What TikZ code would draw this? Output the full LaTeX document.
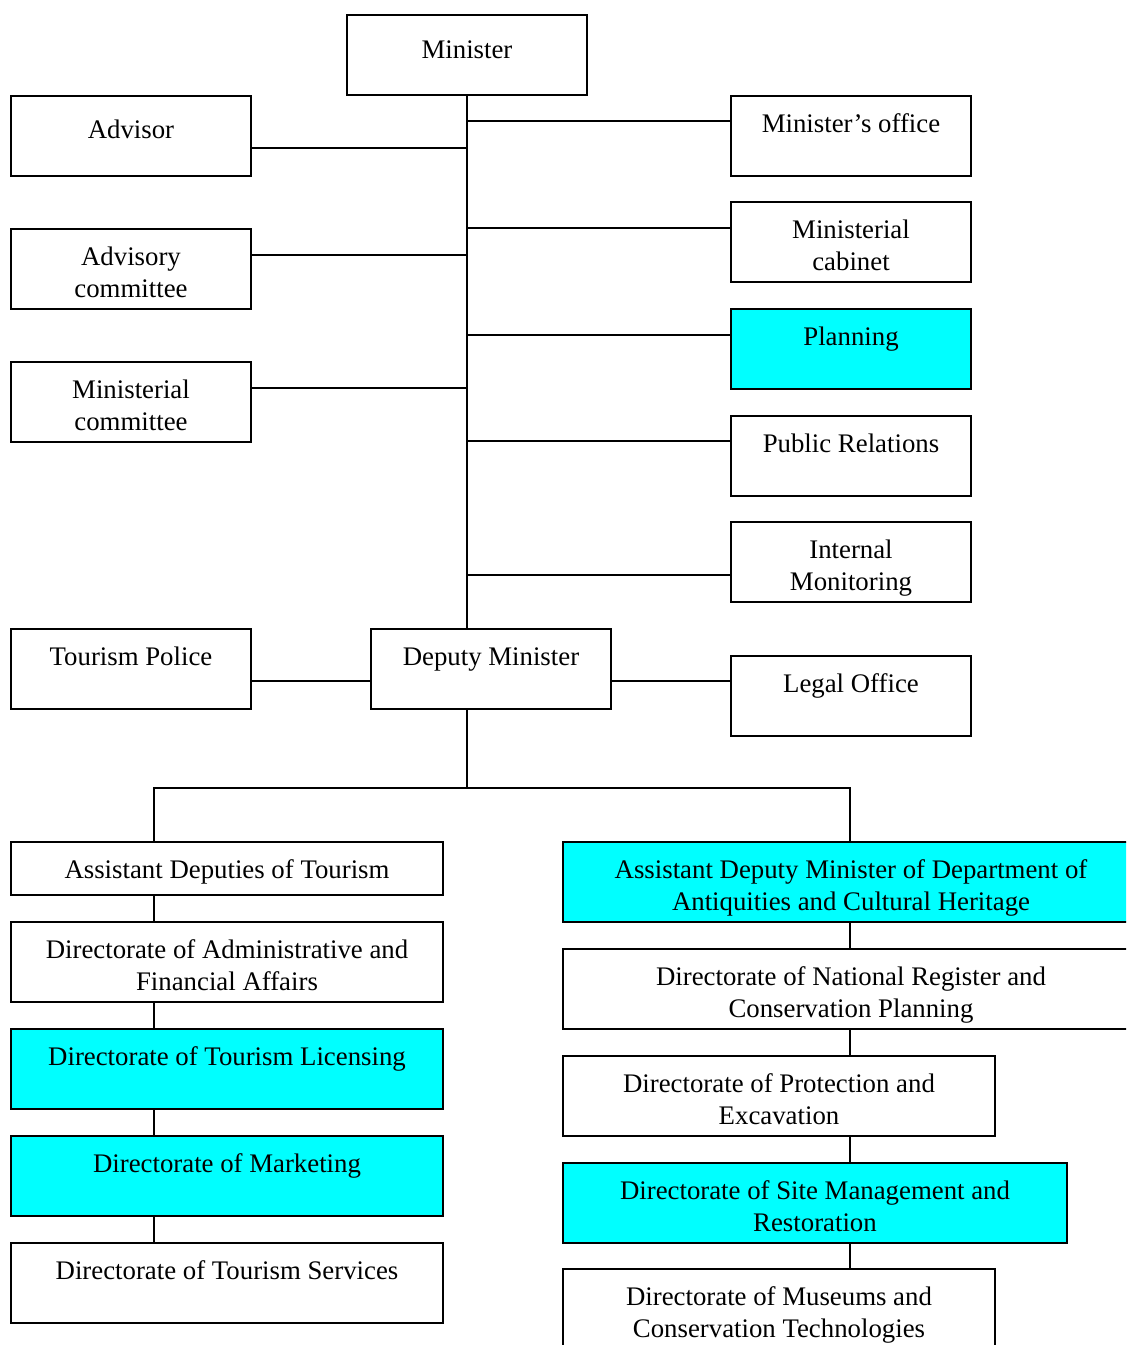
\documentclass[tikz,border=0pt]{standalone}
\usepackage{fontspec}
\setmainfont{Liberation Serif}
\usepackage{xcolor}
\definecolor{boxcyan}{RGB}{0,255,255}

\begin{document}
\begin{tikzpicture}[x=0.5pt, y=-0.5pt,
	orgbox/.style={draw, line width=1pt, fill=white, anchor=north west, inner sep=0pt, align=flush center,
		text width=#1, minimum width=#1, minimum height=40pt, text height=18pt, text depth=22pt,
		font=\fontsize{13.4pt}{16pt}\selectfont},
	orgbox/.default=120pt,
	hl/.style={fill=boxcyan},
	link/.style={line width=1pt}
]
\useasboundingbox (0,0) rectangle (1126,1345);
\clip (0,0) rectangle (1126,1345);

% minister level
\node[orgbox, text height=21.5pt, text depth=18.5pt] (minister) at (346,14) {Minister};
\node[orgbox, text height=21pt, text depth=19pt] (advisor) at (10,95) {Advisor};
\node[orgbox] (office) at (730,95) {Minister's office};
\node[orgbox] (advcomm) at (10,228) {Advisory\\committee};
\node[orgbox] (cabinet) at (730,201) {Ministerial\\cabinet};
\node[orgbox, hl] (planning) at (730,308) {Planning};
\node[orgbox] (mincomm) at (10,361) {Ministerial\\committee};
\node[orgbox] (pr) at (730,415) {Public Relations};
\node[orgbox] (monitor) at (730,521) {Internal\\Monitoring};
\node[orgbox] (police) at (10,628) {Tourism Police};
\node[orgbox] (deputy) at (370,628) {Deputy Minister};
\node[orgbox] (legal) at (730,655) {Legal Office};

% tourism branch
\node[orgbox=216pt, minimum height=26.5pt, text depth=8.5pt] (asstour) at (10,841) {Assistant Deputies of Tourism};
\node[orgbox=216pt] (diradmin) at (10,921) {Directorate of Administrative and\\Financial Affairs};
\node[orgbox=216pt, hl] (dirlic) at (10,1028) {Directorate of Tourism Licensing};
\node[orgbox=216pt, hl] (dirmkt) at (10,1135) {Directorate of Marketing};
\node[orgbox=216pt] (dirsvc) at (10,1242) {Directorate of Tourism Services};

% heritage branch
\node[orgbox=288pt, hl] (asdm) at (562,841) {Assistant Deputy Minister of Department of\\Antiquities and Cultural Heritage};
\node[orgbox=288pt] (natreg) at (562,948) {Directorate of National Register and\\Conservation Planning};
\node[orgbox=216pt] (protect) at (562,1055) {Directorate of Protection and\\Excavation};
\node[orgbox=252pt, hl] (site) at (562,1162) {Directorate of Site Management and\\Restoration};
\node[orgbox=216pt] (museum) at (562,1268) {Directorate of Museums and\\Conservation Technologies};

% trunk and side links
\draw[link] (minister.south) -- (minister.south |- deputy.north);
\draw[link] (minister.south) |- ([yshift=-13pt]office.north west);
\draw[link] (minister.south) |- ([yshift=-26.5pt]advisor.north east);
\draw[link] (minister.south) |- ([yshift=-13.5pt]cabinet.north west);
\draw[link] (minister.south) |- ([yshift=-13.5pt]advcomm.north east);
\draw[link] (minister.south) |- ([yshift=-13.5pt]planning.north west);
\draw[link] (minister.south) |- ([yshift=-13.5pt]mincomm.north east);
\draw[link] (minister.south) |- ([yshift=-13pt]pr.north west);
\draw[link] (minister.south) |- ([yshift=-27pt]monitor.north west);
\draw[link] ([yshift=-26.5pt]police.north east) -- ([yshift=-26.5pt]deputy.north west);
\draw[link] ([yshift=-26.5pt]deputy.north east) -- ([yshift=-13pt]legal.north west);

% lower split
\coordinate (lspine) at (154,788);
\coordinate (rspine) at (850,788);
\coordinate (split) at (minister.south |- lspine);
\draw[link] (minister.south |- deputy.south) -- (split);
\draw[link] (lspine |- asstour.north) -- (lspine) -- (rspine) -- (rspine |- asdm.north);
\foreach \a/\b in {asstour/diradmin, diradmin/dirlic, dirlic/dirmkt, dirmkt/dirsvc}
	\draw[link] (lspine |- \a.south) -- (lspine |- \b.north);
\foreach \a/\b in {asdm/natreg, natreg/protect, protect/site, site/museum}
	\draw[link] (rspine |- \a.south) -- (rspine |- \b.north);
\end{tikzpicture}
\end{document}
